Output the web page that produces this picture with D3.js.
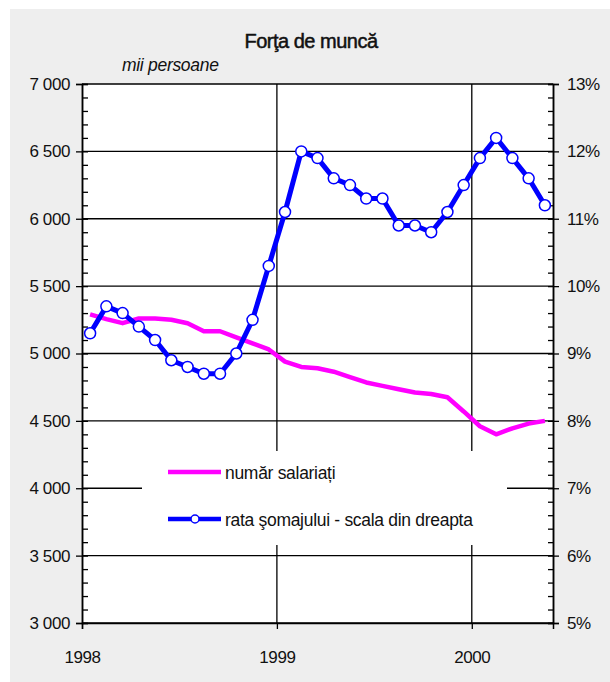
<!DOCTYPE html>
<html>
<head>
<meta charset="utf-8">
<script src="https://cdn.jsdelivr.net/npm/d3@7"></script>
<style>
  body { margin: 0; background: #fff; }
  text { font-family: "Liberation Sans", Arial, sans-serif; fill: #111; }
</style>
</head>
<body>
<div id="chart"></div>
<script>
// luni: ian 1998 - mai 2000
const months = d3.range(29);
const yearLabels = ['1998', '1999', '2000'];
const yearTicks = [0, 12, 24];

// numar salariati (mii persoane)
const salariati = [5290, 5255, 5225, 5260, 5260, 5250, 5225, 5165, 5165, 5120, 5075, 5030,
  4940, 4900, 4890, 4865, 4825, 4785, 4760, 4735, 4710, 4700, 4675, 4570,
  4460, 4400, 4445, 4480, 4500];

// rata somajului (%)
const somaj = [9.3, 9.7, 9.6, 9.4, 9.2, 8.9, 8.8, 8.7, 8.7, 9.0, 9.5, 10.3,
  11.1, 12.0, 11.9, 11.6, 11.5, 11.3, 11.3, 10.9, 10.9, 10.8,
  11.1, 11.5, 11.9, 12.2, 11.9, 11.6, 11.2];

const leftTicks = d3.range(3000, 7001, 500);
const rightTicks = d3.range(5, 13.01, 1);

const width = 610, height = 682;
const margin = { top: 84, right: 57, bottom: 59, left: 82 };

const svg = d3.select('#chart').append('svg')
  .attr('width', width)
  .attr('height', height);

svg.append('rect')
  .attr('x', 10).attr('y', 9)
  .attr('width', width - 10).attr('height', height - 9)
  .attr('fill', '#eeeeee');

const x_scale = d3.scaleLinear()
  .domain([0, 29])
  .range([margin.left, width - margin.right]);
const y_left = d3.scaleLinear()
  .domain([3000, 7000])
  .range([height - margin.bottom, margin.top]);
const y_right = d3.scaleLinear()
  .domain([5, 13])
  .range([height - margin.bottom, margin.top]);

const x0 = margin.left, x1 = width - margin.right;
const yTop = margin.top, yBot = height - margin.bottom;

svg.append('rect')
  .attr('x', x0).attr('y', yTop)
  .attr('width', x1 - x0).attr('height', yBot - yTop)
  .attr('fill', '#fff');

// grid
svg.append('g').selectAll('line')
  .data(leftTicks)
  .enter().append('line')
  .attr('x1', x0).attr('x2', x1)
  .attr('y1', d => y_left(d)).attr('y2', d => y_left(d))
  .attr('stroke', '#000').attr('stroke-width', 1.3);
svg.append('g').selectAll('line')
  .data(yearTicks.slice(1))
  .enter().append('line')
  .attr('x1', d => x_scale(d)).attr('x2', d => x_scale(d))
  .attr('y1', yTop).attr('y2', yBot)
  .attr('stroke', '#000').attr('stroke-width', 1.3);

// left axis: major ticks outside, minor inside
const gl = svg.append('g').attr('transform', 'translate(' + x0 + ',0)');
gl.call(d3.axisLeft(y_left).tickValues(leftTicks).tickSize(6).tickPadding(6)
  .tickFormat(d => d3.format(',')(d).replace(',', ' ')));
gl.append('g').call(d3.axisRight(y_left).tickValues(d3.range(3000, 7001, 100)).tickSize(6).tickFormat(''));
gl.selectAll('.domain').attr('stroke-width', 1.5);

// right axis
const gr = svg.append('g').attr('transform', 'translate(' + x1 + ',0)');
gr.call(d3.axisRight(y_right).tickValues(rightTicks).tickSize(6).tickPadding(8)
  .tickFormat(d => d + '%'));
gr.append('g').call(d3.axisLeft(y_right).tickValues(d3.range(5, 13.01, 0.2)).tickSize(5).tickFormat(''));
gr.selectAll('.domain').attr('stroke-width', 1.5);

// bottom axis
const gb = svg.append('g').attr('transform', 'translate(0,' + yBot + ')');
gb.call(d3.axisBottom(x_scale).tickValues(yearTicks).tickSize(6).tickPadding(22)
  .tickFormat((d, i) => yearLabels[i]));
gb.selectAll('.domain').attr('stroke-width', 1.5);

svg.selectAll('.tick text')
  .style('font-size', '17px').style('letter-spacing', '-0.4px').attr('fill', '#111');
svg.selectAll('.domain').attr('stroke', '#000');
svg.selectAll('.tick line').attr('stroke', '#000').attr('stroke-width', 1.3);

// legend box (covers grid)
svg.append('rect')
  .attr('x', 142).attr('y', 451)
  .attr('width', 365).attr('height', 94)
  .attr('fill', '#fff');

// series
const lineSal = d3.line()
  .x((d, i) => x_scale(i + 0.5))
  .y(d => y_left(d));
const lineSom = d3.line()
  .x((d, i) => x_scale(i + 0.5))
  .y(d => y_right(d));

svg.append('path')
  .datum(salariati)
  .attr('d', lineSal)
  .attr('fill', 'none')
  .attr('stroke', '#ff00ff')
  .attr('stroke-width', 4.5)
  .attr('stroke-linejoin', 'round');

svg.append('path')
  .datum(somaj)
  .attr('d', lineSom)
  .attr('fill', 'none')
  .attr('stroke', '#0000ff')
  .attr('stroke-width', 5)
  .attr('stroke-linejoin', 'round');

svg.selectAll('.dot')
  .data(somaj)
  .enter().append('circle')
  .attr('class', 'dot')
  .attr('r', 5.5)
  .attr('cx', (d, i) => x_scale(i + 0.5))
  .attr('cy', d => y_right(d))
  .attr('fill', '#fff')
  .attr('stroke', '#0000ff')
  .attr('stroke-width', 1.5);

// legend
const legend = svg.append('g');
legend.append('line')
  .attr('x1', 168).attr('x2', 221).attr('y1', 472).attr('y2', 472)
  .attr('stroke', '#ff00ff').attr('stroke-width', 4.5);
legend.append('text')
  .attr('x', 225).attr('y', 479)
  .style('font-size', '17.5px').style('letter-spacing', '-0.3px')
  .text('număr salariați');
legend.append('line')
  .attr('x1', 168).attr('x2', 221).attr('y1', 519).attr('y2', 519)
  .attr('stroke', '#0000ff').attr('stroke-width', 4.5);
legend.append('circle')
  .attr('cx', 195).attr('cy', 519).attr('r', 4)
  .attr('fill', '#fff').attr('stroke', '#0000ff').attr('stroke-width', 1.5);
legend.append('text')
  .attr('x', 225).attr('y', 526)
  .style('font-size', '17.5px').style('letter-spacing', '-0.3px')
  .text('rata şomajului - scala din dreapta');

// titles
svg.append('text')
  .attr('x', 311).attr('y', 48)
  .attr('text-anchor', 'middle')
  .style('font-size', '20px').style('letter-spacing', '-0.5px')
  .style('stroke', '#111').style('stroke-width', 0.5)
  .text('Forţa de muncă');
svg.append('text')
  .attr('x', 122).attr('y', 71)
  .style('font-size', '17.5px').style('font-style', 'italic').style('letter-spacing', '-0.3px')
  .text('mii persoane');
</script>
</body>
</html>
